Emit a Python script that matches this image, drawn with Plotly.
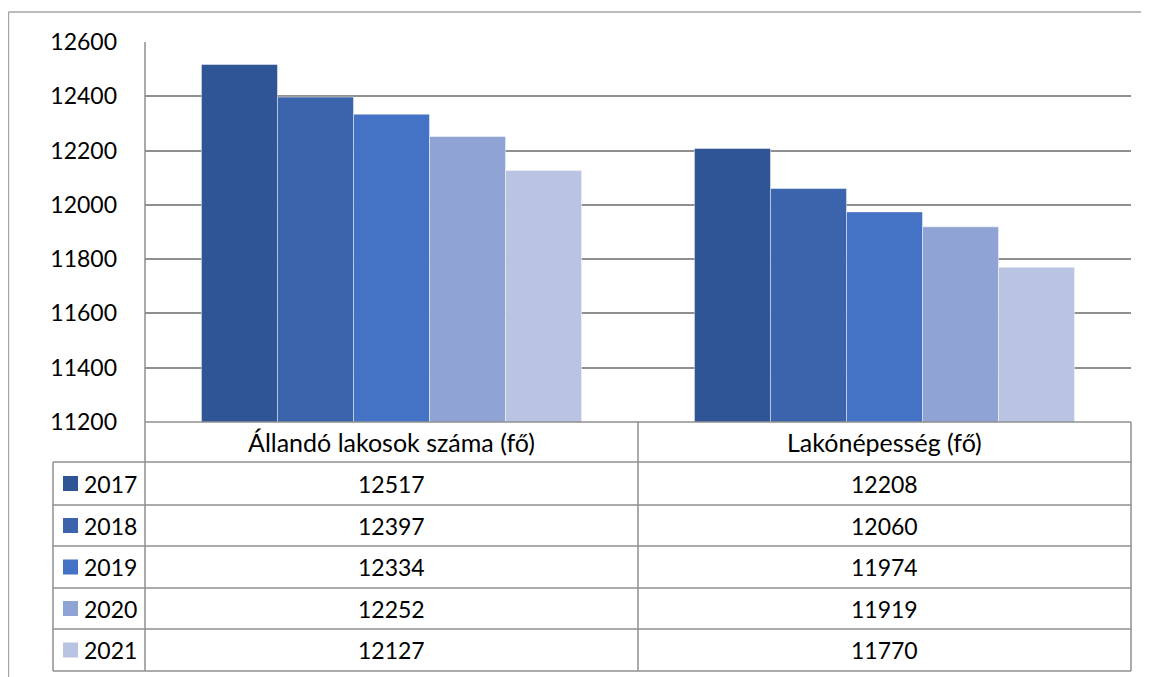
import plotly.graph_objects as go

# ---------------- data ----------------
categories = ["Állandó lakosok száma (fő)", "Lakónépesség (fő)"]
years = ["2017", "2018", "2019", "2020", "2021"]
values_2017 = [12517, 12208]
values_2018 = [12397, 12060]
values_2019 = [12334, 11974]
values_2020 = [12252, 11919]
values_2021 = [12127, 11770]
series_values = [values_2017, values_2018, values_2019, values_2020, values_2021]
colors = ["#2F5596", "#3B64AD", "#4472C4", "#8FA3D4", "#B9C3E2"]
y_ticks = [11200, 11400, 11600, 11800, 12000, 12200, 12400, 12600]

# ---------------- geometry helpers ----------------
OFF = 8  # default page body margin
W, H = 1149 - OFF, 677 - OFF
def X(p):
    return (p - OFF) / W
def Y(p):
    return 1 - (p - OFF) / H

plot_left, plot_right, plot_top, plot_bottom = 145, 1131, 42, 422
mid_x = 638
legend_left = 53
row_edges = [462, 505, 546, 588, 629, 671]
line_col = "#8f8f8f"
FONT = "Lato"
NUM_SIZE = 23
TXT_SIZE = 25

fig = go.Figure()
for yr, vals, col in zip(years, series_values, colors):
    fig.add_trace(go.Bar(
        x=categories, y=vals, name=yr,
        marker=dict(color=col, line=dict(color="rgba(255,255,255,0.45)", width=1)),
    ))

shapes = []
def line(x0, y0, x1, y1, color=line_col, width=1.5):
    shapes.append(dict(type="line", xref="paper", yref="paper",
                       x0=X(x0), y0=Y(y0), x1=X(x1), y1=Y(y1),
                       line=dict(color=color, width=width)))

# outer chart frame (cropped right/bottom)
line(8.5, 12, 1160, 12, color="#a6a6a6")
line(8.5, 12, 8.5, 690, color="#a6a6a6")
# plot/table vertical lines
line(plot_left, plot_top, plot_left, row_edges[-1])
line(plot_right, plot_bottom, plot_right, row_edges[-1])
line(mid_x, plot_bottom, mid_x, row_edges[-1])
line(legend_left, row_edges[0], legend_left, row_edges[-1])
# horizontal lines
line(plot_left, plot_bottom, plot_right, plot_bottom)
for ry in row_edges:
    line(legend_left, ry, plot_right, ry)

annotations = []
def text(x, y, s, xanchor="center", size=NUM_SIZE):
    annotations.append(dict(xref="paper", yref="paper", x=X(x), y=Y(y), text=s,
                            showarrow=False, xanchor=xanchor, yanchor="middle",
                            font=dict(family=FONT, size=size, color="black")))

col_centers = [(plot_left + mid_x) / 2, (mid_x + plot_right) / 2]
for c, cat in zip(col_centers, categories):
    text(c, (plot_bottom + row_edges[0]) / 2, cat, size=TXT_SIZE)

for i, (yr, vals, col) in enumerate(zip(years, series_values, colors)):
    cy = (row_edges[i] + row_edges[i + 1]) / 2
    shapes.append(dict(type="rect", xref="paper", yref="paper",
                       x0=X(63), x1=X(78), y0=Y(cy - 7.5), y1=Y(cy + 7.5),
                       fillcolor=col, line=dict(width=0)))
    text(82, cy, yr, xanchor="left")
    for c, v in zip(col_centers, vals):
        text(c, cy, str(v))

fig.update_layout(
    width=W, height=H,
    margin=dict(l=0, r=0, t=0, b=0, autoexpand=False),
    paper_bgcolor="white", plot_bgcolor="white",
    barmode="group", bargap=0.229, bargroupgap=0,
    showlegend=False,
    shapes=shapes, annotations=annotations,
    font=dict(family=FONT, size=NUM_SIZE, color="black"),
    xaxis=dict(domain=[X(plot_left), X(plot_right)], showticklabels=False,
               showgrid=False, zeroline=False, showline=False, ticks="",
               range=[-0.5, 1.5], automargin=False),
    yaxis=dict(domain=[Y(plot_bottom), Y(plot_top)], range=[11200, 12600],
               tickvals=y_ticks, ticktext=[str(t) for t in y_ticks],
               showgrid=True, gridcolor=line_col, gridwidth=1.5,
               zeroline=False, showline=False, ticks="",
               ticklabelstandoff=27, automargin=False,
               tickfont=dict(family=FONT, size=NUM_SIZE, color="black")),
)

fig.write_html("out.html")
